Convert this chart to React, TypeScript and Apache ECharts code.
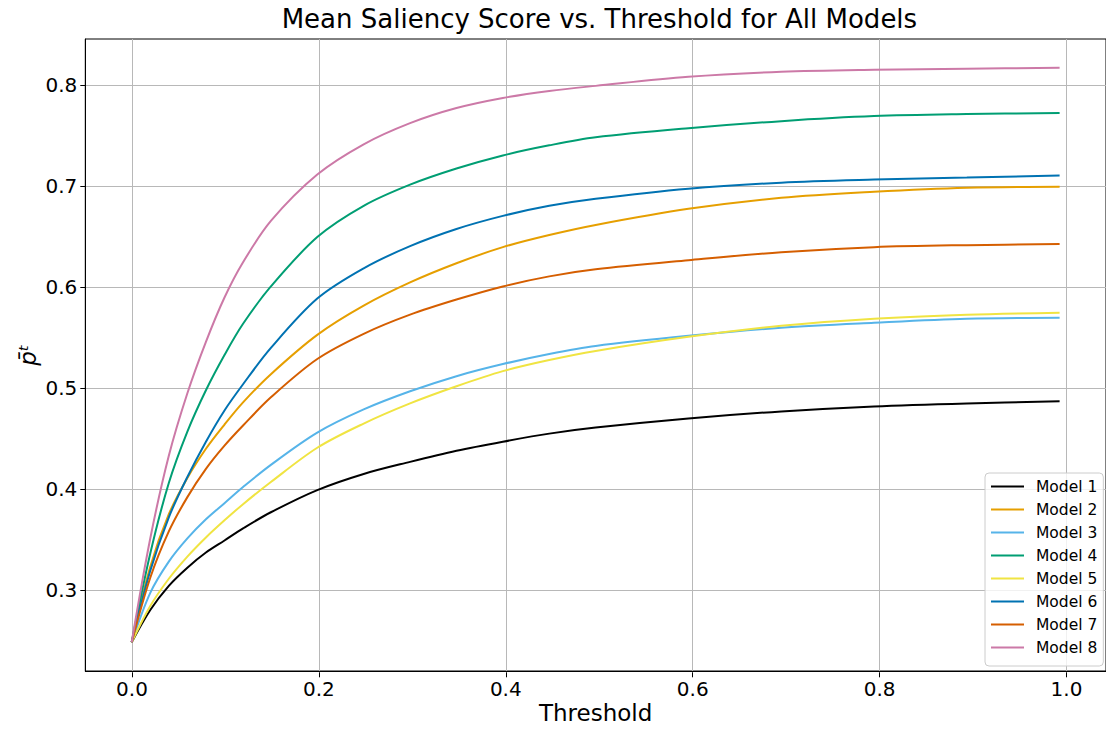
import React, { useEffect, useRef } from "react";
import * as echarts from "echarts";

const thresholds = [0, 0.02, 0.04, 0.06, 0.08, 0.1, 0.12, 0.15, 0.2, 0.25, 0.3, 0.35, 0.4, 0.45, 0.5, 0.6, 0.7, 0.8, 0.9, 1.0];

const model1 = [0.247, 0.279, 0.303, 0.321, 0.336, 0.348, 0.360, 0.376, 0.398, 0.414, 0.426, 0.437, 0.446, 0.454, 0.460, 0.469, 0.476, 0.481, 0.484, 0.486];
const model2 = [0.247, 0.322, 0.374, 0.410, 0.439, 0.463, 0.485, 0.513, 0.552, 0.581, 0.604, 0.623, 0.639, 0.651, 0.661, 0.677, 0.688, 0.694, 0.698, 0.699];
const model3 = [0.247, 0.296, 0.327, 0.350, 0.369, 0.385, 0.401, 0.423, 0.455, 0.478, 0.496, 0.511, 0.523, 0.533, 0.541, 0.551, 0.559, 0.564, 0.568, 0.569];
const model4 = [0.247, 0.335, 0.405, 0.456, 0.497, 0.532, 0.563, 0.600, 0.649, 0.680, 0.701, 0.717, 0.730, 0.740, 0.748, 0.757, 0.764, 0.769, 0.771, 0.772];
const model5 = [0.247, 0.283, 0.310, 0.332, 0.351, 0.368, 0.384, 0.406, 0.440, 0.464, 0.484, 0.501, 0.516, 0.527, 0.536, 0.550, 0.561, 0.568, 0.572, 0.574];
const model6 = [0.247, 0.318, 0.371, 0.411, 0.446, 0.477, 0.503, 0.539, 0.588, 0.618, 0.640, 0.657, 0.670, 0.680, 0.687, 0.697, 0.703, 0.706, 0.708, 0.710];
const model7 = [0.247, 0.311, 0.357, 0.391, 0.419, 0.442, 0.462, 0.490, 0.528, 0.553, 0.572, 0.587, 0.600, 0.610, 0.617, 0.626, 0.634, 0.639, 0.641, 0.642];
const model8 = [0.247, 0.350, 0.432, 0.494, 0.545, 0.589, 0.624, 0.665, 0.711, 0.741, 0.762, 0.777, 0.787, 0.794, 0.799, 0.808, 0.813, 0.815, 0.816, 0.817];

const seriesNames = ["Model 1", "Model 2", "Model 3", "Model 4", "Model 5", "Model 6", "Model 7", "Model 8"];
const seriesValues = [model1, model2, model3, model4, model5, model6, model7, model8];
const seriesColors = ["#000000", "#E69F00", "#56B4E9", "#009E73", "#F0E442", "#0072B2", "#D55E00", "#CC79A7"];

const xTicks = [0, 0.2, 0.4, 0.6, 0.8, 1.0];
const yTicks = [0.3, 0.4, 0.5, 0.6, 0.7, 0.8];

const titleText = "Mean Saliency Score vs. Threshold for All Models";
const xLabel = "Threshold";
const yLabel = "p\u0304\u1D57";

const FONT = "DejaVu Sans";

export default function App() {
  const ref = useRef<HTMLDivElement>(null);

  useEffect(() => {
    if (!ref.current) return;
    const chart = echarts.init(ref.current, null, { renderer: "svg" });

    const plotLeft = 85.3;
    const plotTop = 39;
    const plotW = 1028;
    const plotH = 633.3;
    const x0px = 132;
    const x1px = 1066.5;
    const y08 = 85;
    const y03 = 590;

    const gridColor = "#b8b8b8";

    chart.setOption({
      animation: false,
      backgroundColor: "#ffffff",
      textStyle: { fontFamily: FONT },
      graphic: [
        {
          type: "text",
          x: 599.4,
          y: 6,
          style: {
            text: titleText,
            fontSize: 26,
            fontFamily: FONT,
            fill: "#000",
            align: "center",
            verticalAlign: "top",
          },
        },
      ],
      grid: [
        {
          left: plotLeft,
          top: plotTop,
          width: plotW,
          height: plotH,
          show: true,
          borderColor: "#000",
          borderWidth: 1,
          backgroundColor: "transparent",
          containLabel: false,
        },
        {
          left: x0px,
          top: plotTop,
          width: x1px - x0px,
          height: plotH,
          containLabel: false,
        },
        {
          left: plotLeft,
          top: y08,
          width: plotW,
          height: y03 - y08,
          containLabel: false,
        },
      ],
      xAxis: [
        {
          gridIndex: 0,
          type: "value",
          min: -0.05,
          max: 1.05,
          axisLine: { show: true, onZero: false, lineStyle: { color: "#000", width: 1 } },
          axisTick: { show: false },
          axisLabel: { show: false },
          splitLine: { show: false },
          name: xLabel,
          nameLocation: "middle",
          nameGap: 30,
          nameTextStyle: { fontSize: 23, color: "#000", fontFamily: FONT },
        },
        {
          gridIndex: 1,
          type: "value",
          min: xTicks[0],
          max: xTicks[xTicks.length - 1],
          interval: 0.2,
          axisLine: { show: false, onZero: false },
          axisTick: { show: true, length: 5, lineStyle: { color: "#000", width: 1 } },
          axisLabel: {
            fontSize: 20,
            color: "#000",
            fontFamily: FONT,
            margin: 7,
            formatter: (v: number) => v.toFixed(1),
          },
          splitLine: { show: true, lineStyle: { color: gridColor, width: 1 } },
        },
        {
          gridIndex: 2,
          type: "value",
          show: false,
          min: 0,
          max: 1,
        },
      ],
      yAxis: [
        {
          gridIndex: 0,
          type: "value",
          min: 0.2185,
          max: 0.8455,
          axisLine: { show: true, onZero: false, lineStyle: { color: "#000", width: 1 } },
          axisTick: { show: false },
          axisLabel: { show: false },
          splitLine: { show: false },
          name: yLabel,
          nameLocation: "middle",
          nameGap: 46,
          nameRotate: 90,
          nameTextStyle: { fontSize: 23, color: "#000", fontStyle: "italic", fontFamily: FONT },
        },
        {
          gridIndex: 1,
          type: "value",
          show: false,
          min: 0,
          max: 1,
        },
        {
          gridIndex: 2,
          type: "value",
          min: yTicks[0],
          max: yTicks[yTicks.length - 1],
          interval: 0.1,
          axisLine: { show: false, onZero: false },
          axisTick: { show: true, length: 5, lineStyle: { color: "#000", width: 1 } },
          axisLabel: {
            fontSize: 20,
            color: "#000",
            fontFamily: FONT,
            margin: 8,
            formatter: (v: number) => v.toFixed(1),
          },
          splitLine: { show: true, lineStyle: { color: gridColor, width: 1 } },
        },
      ],
      legend: {
        orient: "vertical",
        left: 985,
        top: 473,
        icon: "rect",
        itemWidth: 33,
        itemHeight: 2.2,
        itemGap: 0,
        data: seriesNames,
        textStyle: {
          fontSize: 15.5,
          lineHeight: 23,
          color: "#000",
          fontFamily: FONT,
          padding: [0, 0, 0, 7],
        },
        backgroundColor: "rgba(255,255,255,0.8)",
        borderColor: "#cccccc",
        borderWidth: 1,
        borderRadius: 4,
        padding: [2, 6, 7, 6],
      },
      series: seriesNames.map((name, i) => ({
        name,
        type: "line",
        xAxisIndex: 0,
        yAxisIndex: 0,
        data: thresholds.map((t, j) => [t, seriesValues[i][j]]),
        symbol: "none",
        showSymbol: false,
        smooth: 0.33,
        color: seriesColors[i],
        itemStyle: { color: seriesColors[i] },
        lineStyle: { color: seriesColors[i], width: 2 },
        z: 3 + i,
      })),
    });

    return () => {
      chart.dispose();
    };
  }, []);

  return (
    <div
      ref={ref}
      style={{ position: "fixed", left: 0, top: 0, width: 1106, height: 729 }}
    />
  );
}
